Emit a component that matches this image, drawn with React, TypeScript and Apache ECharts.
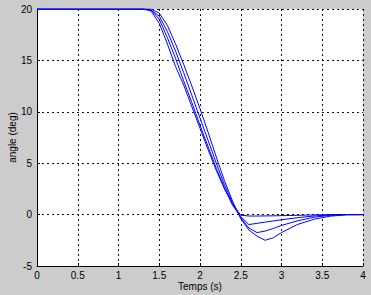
import React, { useEffect, useRef } from "react";
import * as echarts from "echarts";

const times = [0, 1.3, 1.4, 1.5, 1.6, 1.7, 1.8, 1.9, 2.0, 2.1, 2.2, 2.3, 2.4, 2.5, 2.6, 2.7, 2.8, 2.9, 3.0, 3.2, 3.4, 3.6, 3.8, 4.0];
const curveA = [20, 20, 19.8, 18.6, 16.6, 14.4, 12.6, 10.5, 8.4, 6.3, 4.3, 2.5, 1.0, -0.05, -0.14, -0.14, -0.13, -0.12, -0.1, -0.07, -0.03, -0.01, 0, 0];
const curveB = [20, 20, 19.9, 19.0, 17.2, 15.2, 13.0, 10.9, 8.7, 6.6, 4.5, 2.6, 0.9, -0.2, -0.97, -0.85, -0.73, -0.62, -0.5, -0.3, -0.13, -0.03, 0, 0];
const curveC = [20, 20, 19.9, 19.3, 17.8, 15.9, 13.8, 11.6, 9.4, 7.2, 5.0, 2.9, 1.1, -0.3, -1.3, -1.75, -1.6, -1.35, -1.05, -0.6, -0.25, -0.07, 0, 0];
const curveD = [20, 20, 20, 19.6, 18.4, 16.6, 14.6, 12.5, 10.3, 8.0, 5.6, 3.3, 1.3, -0.4, -1.5, -2.1, -2.5, -2.25, -1.75, -0.95, -0.45, -0.15, -0.02, 0];
const curves = [curveA, curveB, curveC, curveD];

const xTicks = { min: 0, max: 4, interval: 0.5 };
const yTicks = { min: -5, max: 20, interval: 5 };

export default function App() {
  const ref = useRef<HTMLDivElement>(null);
  useEffect(() => {
    document.body.style.margin = "0";
    const chart = echarts.init(ref.current!, null, { renderer: "svg" });
    const font = "Liberation Sans, Arial, sans-serif";
    const grid = { lineStyle: { color: "#111", type: [2, 3] as any, width: 1 } };
    chart.setOption({
      animation: false,
      backgroundColor: "#cccccc",
      grid: {
        left: 37, right: 8, top: 9, bottom: 29,
        backgroundColor: "#fff", show: true, borderWidth: 0,
        containLabel: false, outerBoundsMode: "none",
      },
      xAxis: {
        type: "value",
        min: xTicks.min,
        max: xTicks.max,
        interval: xTicks.interval,
        name: "Temps (s)",
        nameLocation: "middle",
        nameGap: 15,
        nameMoveOverlap: false,
        nameTextStyle: { fontFamily: font, fontSize: 10, color: "#000" },
        axisLine: { onZero: false, lineStyle: { color: "#000", width: 1 } },
        axisTick: { inside: true, length: 3, lineStyle: { color: "#000" } },
        axisLabel: { fontFamily: font, fontSize: 10, color: "#000", margin: 4 },
        splitLine: { show: true, ...grid },
      },
      yAxis: {
        type: "value",
        min: yTicks.min,
        max: yTicks.max,
        interval: yTicks.interval,
        name: "angle (deg)",
        nameLocation: "middle",
        nameGap: 20,
        nameMoveOverlap: false,
        nameRotate: 90,
        nameTextStyle: { fontFamily: font, fontSize: 10, color: "#000" },
        axisLine: { show: true, onZero: false, lineStyle: { color: "#000", width: 1 } },
        axisTick: { show: true, inside: true, length: 3, lineStyle: { color: "#000" } },
        axisLabel: { fontFamily: font, fontSize: 10, color: "#000", margin: 5 },
        splitLine: { show: true, ...grid },
      },
      series: curves.map((c) => ({
        type: "line",
        data: times.map((t, i) => [t, c[i]]),
        showSymbol: false,
        symbol: "none",
        lineStyle: { color: "#0000ff", width: 1 },
        silent: true,
      })),
    });
    return () => chart.dispose();
  }, []);
  return <div ref={ref} style={{ width: 371, height: 295 }} />;
}
